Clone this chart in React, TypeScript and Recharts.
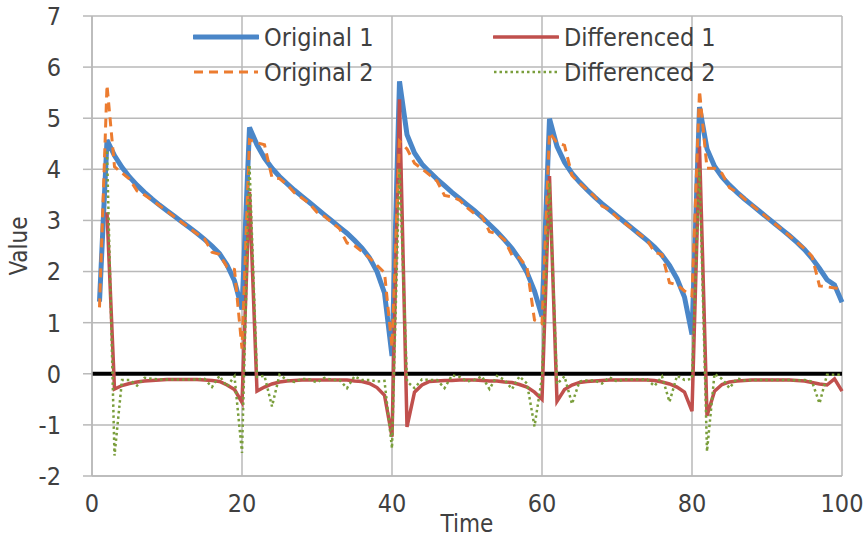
import { CartesianGrid, Label, Line, LineChart, ReferenceLine, XAxis, YAxis } from "recharts";

const FONT = "'Liberation Sans Narrow', 'Arial Narrow', 'DejaVu Sans Condensed', sans-serif";
const TEXT = "#404040";
const GRID = "#b9b9b9";

const time = [
  1, 2, 3, 4, 5, 6, 7, 8, 9, 10, 11, 12, 13, 14, 15, 16, 17, 18, 19, 20,
  21, 22, 23, 24, 25, 26, 27, 28, 29, 30, 31, 32, 33, 34, 35, 36, 37, 38, 39, 40,
  41, 42, 43, 44, 45, 46, 47, 48, 49, 50, 51, 52, 53, 54, 55, 56, 57, 58, 59, 60,
  61, 62, 63, 64, 65, 66, 67, 68, 69, 70, 71, 72, 73, 74, 75, 76, 77, 78, 79, 80,
  81, 82, 83, 84, 85, 86, 87, 88, 89, 90, 91, 92, 93, 94, 95, 96, 97, 98, 99, 100,
];

const original1 = [
  1.41, 4.57, 4.27, 4.04, 3.85, 3.69, 3.55, 3.42, 3.3, 3.19, 3.08, 2.97, 2.86, 2.75, 2.63, 2.5, 2.35, 2.13, 1.82, 1.26,
  4.82, 4.48, 4.22, 4.02, 3.86, 3.72, 3.59, 3.47, 3.35, 3.23, 3.11, 2.99, 2.87, 2.75, 2.61, 2.46, 2.27, 2.0, 1.58, 0.35,
  5.72, 4.68, 4.32, 4.1, 3.95, 3.81, 3.68, 3.55, 3.43, 3.31, 3.19, 3.06, 2.92, 2.78, 2.62, 2.45, 2.24, 1.98, 1.62, 1.12,
  4.99, 4.45, 4.14, 3.92, 3.75, 3.6, 3.46, 3.33, 3.21, 3.09, 2.97, 2.85, 2.73, 2.61, 2.48, 2.32, 2.12, 1.86, 1.5, 0.77,
  5.22, 4.4, 4.06, 3.85, 3.69, 3.55, 3.42, 3.3, 3.18, 3.06, 2.94, 2.82, 2.7, 2.57, 2.43, 2.26, 2.06, 1.84, 1.74, 1.4,
];

const original2 = [
  1.3, 5.65, 4.05, 3.93, 3.81, 3.58, 3.5, 3.4, 3.29, 3.18, 3.07, 2.96, 2.85, 2.74, 2.64, 2.38, 2.34, 2.09, 2.04, 0.49,
  4.58, 4.52, 4.48, 3.84, 3.82, 3.7, 3.54, 3.44, 3.33, 3.16, 3.08, 2.96, 2.84, 2.56, 2.51, 2.39, 2.27, 2.12, 1.98, 0.52,
  4.55, 4.4, 4.12, 4.01, 3.89, 3.77, 3.49, 3.46, 3.4, 3.25, 3.13, 3.08, 2.78, 2.74, 2.62, 2.32, 2.27, 2.08, 1.05, 0.98,
  4.72, 4.52, 4.47, 3.88, 3.73, 3.6, 3.47, 3.28, 3.21, 3.06, 2.95, 2.84, 2.73, 2.62, 2.38, 2.33, 1.78, 1.74, 1.62, 1.52,
  5.54, 4.02, 4.02, 3.92, 3.64, 3.55, 3.42, 3.3, 3.18, 3.06, 2.94, 2.82, 2.7, 2.57, 2.45, 2.3, 1.72, 1.7, 1.68, 1.66,
];

const differenced1 = [
  null, 3.16, -0.3, -0.23, -0.19, -0.16, -0.14, -0.13, -0.12, -0.11, -0.11, -0.11, -0.11, -0.11, -0.12, -0.13, -0.15, -0.22, -0.31, -0.56,
  3.56, -0.34, -0.26, -0.2, -0.16, -0.14, -0.13, -0.12, -0.12, -0.12, -0.12, -0.12, -0.12, -0.12, -0.14, -0.15, -0.19, -0.27, -0.42, -1.23,
  5.37, -1.04, -0.36, -0.22, -0.15, -0.14, -0.13, -0.13, -0.12, -0.12, -0.12, -0.13, -0.14, -0.14, -0.16, -0.17, -0.21, -0.26, -0.36, -0.5,
  3.87, -0.54, -0.31, -0.22, -0.17, -0.15, -0.14, -0.13, -0.12, -0.12, -0.12, -0.12, -0.12, -0.12, -0.13, -0.16, -0.2, -0.26, -0.36, -0.73,
  4.45, -0.82, -0.34, -0.21, -0.16, -0.14, -0.13, -0.12, -0.12, -0.12, -0.12, -0.12, -0.12, -0.13, -0.14, -0.17, -0.2, -0.22, -0.1, -0.34,
];

const differenced2 = [
  null, 4.35, -1.6, -0.12, -0.12, -0.23, -0.08, -0.1, -0.11, -0.11, -0.11, -0.11, -0.11, -0.11, -0.1, -0.26, -0.04, -0.25, -0.05, -1.55,
  4.09, -0.06, -0.04, -0.64, -0.02, -0.12, -0.16, -0.1, -0.11, -0.17, -0.08, -0.12, -0.12, -0.28, -0.05, -0.12, -0.12, -0.15, -0.14, -1.46,
  4.03, -0.15, -0.28, -0.11, -0.12, -0.12, -0.28, -0.03, -0.06, -0.15, -0.12, -0.05, -0.3, -0.04, -0.12, -0.3, -0.05, -0.19, -1.03, -0.07,
  3.74, -0.2, -0.05, -0.59, -0.15, -0.13, -0.13, -0.19, -0.07, -0.15, -0.11, -0.11, -0.11, -0.11, -0.24, -0.05, -0.55, -0.04, -0.12, -0.1,
  4.02, -1.52, 0.0, -0.1, -0.28, -0.09, -0.13, -0.12, -0.12, -0.12, -0.12, -0.12, -0.12, -0.13, -0.12, -0.15, -0.58, -0.02, -0.02, -0.02,
];

const xTicks = [0, 20, 40, 60, 80, 100];
const yTicks = [-2, -1, 0, 1, 2, 3, 4, 5, 6, 7];

const data = time.map((t, i) => ({
  t,
  o1: original1[i],
  o2: original2[i],
  d1: differenced1[i],
  d2: differenced2[i],
}));

const legendItems = [
  { label: "Original 1", color: "#4a86c8", width: 5, dash: undefined, x: 193, y: 37 },
  { label: "Differenced 1", color: "#c0504d", width: 3.5, dash: undefined, x: 493, y: 37 },
  { label: "Original 2", color: "#ec7c30", width: 3, dash: "9 6", x: 193, y: 72 },
  { label: "Differenced 2", color: "#7a9e3c", width: 2.5, dash: "2.5 3", x: 493, y: 72 },
];

function ChartLegend() {
  return (
    <>
      {legendItems.map((it) => (
        <div
          key={it.label}
          style={{
            position: "absolute",
            left: it.x,
            top: it.y - 18,
            height: 36,
            display: "flex",
            alignItems: "center",
            fontFamily: FONT,
            fontSize: 25,
            color: TEXT,
            whiteSpace: "nowrap",
          }}
        >
          <svg width={66} height={36} style={{ marginRight: 5 }}>
            <line
              x1={1}
              x2={65}
              y1={18}
              y2={18}
              stroke={it.color}
              strokeWidth={it.width}
              strokeDasharray={it.dash}
              strokeLinecap={it.dash ? "butt" : "round"}
            />
          </svg>
          <span>{it.label}</span>
        </div>
      ))}
    </>
  );
}

export default function App() {
  const tickStyle = { fill: TEXT, fontSize: 25, fontFamily: FONT };
  return (
    <div style={{ position: "absolute", left: 0, top: 0, width: 867, height: 541, background: "#fff" }}>
      <LineChart width={867} height={541} data={data} margin={{ top: 16, right: 25, left: 0, bottom: 0 }}>
        <CartesianGrid stroke={GRID} strokeWidth={1.5} />
        <XAxis
          dataKey="t"
          type="number"
          domain={[0, 100]}
          ticks={xTicks}
          interval={0}
          height={65}
          axisLine={{ stroke: GRID, strokeWidth: 1.5 }}
          tickLine={false}
          tickSize={0}
          tickMargin={18}
          tick={tickStyle}
        >
          <Label value="Time" position="insideBottom" offset={9} style={{ fill: TEXT, fontSize: 24, fontFamily: FONT }} />
        </XAxis>
        <YAxis
          type="number"
          domain={[-2, 7]}
          ticks={yTicks}
          interval={0}
          width={92}
          axisLine={{ stroke: GRID, strokeWidth: 1.5 }}
          tickLine={{ stroke: GRID, strokeWidth: 1.5 }}
          tickSize={9}
          tickMargin={22}
          tick={tickStyle}
        >
          <Label
            value="Value"
            angle={-90}
            position="insideLeft"
            offset={18}
            style={{ fill: TEXT, fontSize: 24, fontFamily: FONT, textAnchor: "middle" }}
          />
        </YAxis>
        <ReferenceLine y={0} stroke="#000" strokeWidth={4} />
        <Line type="linear" dataKey="o1" stroke="#4a86c8" strokeWidth={5} dot={false} activeDot={false} isAnimationActive={false} />
        <Line type="linear" dataKey="d1" stroke="#c0504d" strokeWidth={3.5} dot={false} activeDot={false} isAnimationActive={false} />
        <Line type="linear" dataKey="o2" stroke="#ec7c30" strokeWidth={3} strokeDasharray="9 6" dot={false} activeDot={false} isAnimationActive={false} />
        <Line type="linear" dataKey="d2" stroke="#7a9e3c" strokeWidth={2.5} strokeDasharray="2.5 3" dot={false} activeDot={false} isAnimationActive={false} />
      </LineChart>
      <ChartLegend />
    </div>
  );
}
